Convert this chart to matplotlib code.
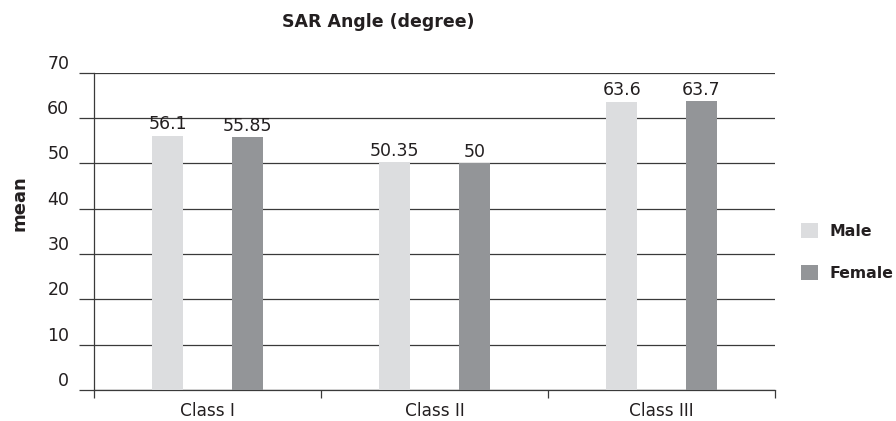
import matplotlib
matplotlib.use("Agg")
import matplotlib.pyplot as plt
import matplotlib.transforms as mtransforms
import numpy as np

# data
categories = ["Class I", "Class II", "Class III"]
male = [56.1, 50.35, 63.6]
female = [55.85, 50, 63.7]
male_labels = ["56.1", "50.35", "63.6"]
female_labels = ["55.85", "50", "63.7"]
y_ticks = [0, 10, 20, 30, 40, 50, 60, 70]

plt.rcParams["font.family"] = ["DejaVu Sans"]
TXT = "#231f20"
LINE = "#3a3a3a"
C_MALE = "#dcdddf"
C_FEMALE = "#939598"

W, H = 896, 421
fig = plt.figure(figsize=(W / 100, H / 100), dpi=100)
ax = fig.add_axes([94 / W, 1 - 390 / H, (775 - 94) / W, (390 - 72.7) / H])

x = np.arange(len(categories))
bw = 0.136
off = 0.175
b1 = ax.bar(x - off, male, bw, color=C_MALE, label="Male", zorder=3)
b2 = ax.bar(x + off, female, bw, color=C_FEMALE, label="Female", zorder=3)

for bars, labs in ((b1, male_labels), (b2, female_labels)):
    for r, t in zip(bars, labs):
        ax.annotate(t, (r.get_x() + r.get_width() / 2, r.get_height()),
                    xytext=(0, 4.5), textcoords="offset points",
                    ha="center", va="baseline", fontsize=12.5, color=TXT, zorder=4)

ax.set_xlim(-0.5, 2.5)
ax.set_ylim(0, 70)

# y axis: grid lines that reach past the spine, labels sitting above the lines
ax.set_yticks(y_ticks)
ax.yaxis.grid(True, color=LINE, linewidth=0.9, zorder=1)
ax.tick_params(axis="y", direction="out", length=10.8, width=0.9, color=LINE,
               pad=7, labelsize=12.5, labelcolor=TXT)
shift = mtransforms.ScaledTranslation(0, 0.11, fig.dpi_scale_trans)
for lab in ax.get_yticklabels():
    lab.set_transform(lab.get_transform() + shift)

# x axis: ticks at category boundaries, labels centred on categories
ax.set_xticks([-0.5, 0.5, 1.5, 2.5])
ax.set_xticklabels([])
ax.tick_params(axis="x", which="major", direction="out", length=6, width=0.9, color=LINE)
ax.set_xticks(x, minor=True)
ax.set_xticklabels(categories, minor=True)
ax.tick_params(axis="x", which="minor", length=0, pad=9, labelsize=12.2, labelcolor=TXT)

for s in ("top", "right"):
    ax.spines[s].set_visible(False)
for s in ("left", "bottom"):
    ax.spines[s].set_color(LINE)
    ax.spines[s].set_linewidth(0.9)

fig.text(378 / W, 1 - 22 / H, "SAR Angle (degree)", ha="center", va="center",
         fontsize=12.5, fontweight="bold", color=TXT)
fig.text(20 / W, 1 - 203 / H, "mean", ha="center", va="center", rotation=90,
         fontsize=13, fontweight="bold", color=TXT)

fig.legend(handles=[b1, b2], loc="center left",
           bbox_to_anchor=(801 / W, 1 - 252 / H), frameon=False,
           borderpad=0, borderaxespad=0, handlelength=1.1, handleheight=1.1,
           handletextpad=0.7, labelspacing=1.65,
           prop={"size": 11.3, "weight": "bold"}, labelcolor=TXT)

fig.savefig("out.png", dpi=100)
